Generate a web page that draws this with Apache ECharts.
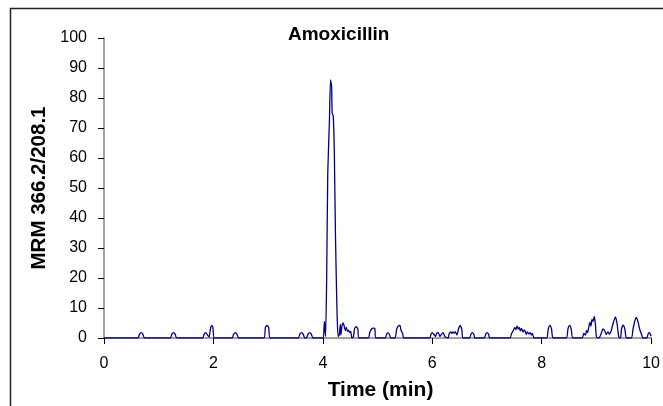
<!DOCTYPE html>
<html>
<head>
<meta charset="utf-8">
<script src="https://cdn.jsdelivr.net/npm/echarts@6/dist/echarts.min.js"></script>
<style>
html,body{margin:0;padding:0;background:#fff;}
#chart{width:663px;height:406px;}
</style>
</head>
<body>
<div id="chart"></div>
<script>
var chartTitle = "Amoxicillin";
var xAxisName = "Time (min)";
var yAxisName = "MRM 366.2/208.1";
var xTicks = [0, 2, 4, 6, 8, 10];
var yTicks = [0, 10, 20, 30, 40, 50, 60, 70, 80, 90, 100];

var timeMin = [
  0, 0.62, 0.65, 0.68, 0.71, 0.74,
  1.21, 1.24, 1.27, 1.30, 1.33,
  1.80, 1.83, 1.86, 1.89, 1.92, 1.95, 1.97, 1.99, 2.02,
  2.34, 2.37, 2.40, 2.43, 2.46,
  2.92, 2.95, 2.98, 3.01, 3.04,
  3.55, 3.58, 3.61, 3.64, 3.67, 3.70, 3.73, 3.76, 3.79, 3.82,
  4.00, 4.02, 4.03, 4.05, 4.07, 4.09, 4.12, 4.14, 4.16, 4.17, 4.19, 4.21, 4.23, 4.26, 4.28,
  4.30, 4.32, 4.33, 4.35, 4.37, 4.39, 4.41, 4.43, 4.45, 4.47, 4.49, 4.51, 4.53,
  4.56, 4.58, 4.61, 4.64, 4.66,
  4.83, 4.86, 4.89, 4.92, 4.95, 4.97,
  5.14, 5.17, 5.19, 5.22, 5.24,
  5.32, 5.35, 5.38, 5.41, 5.43, 5.46, 5.48,
  5.95, 5.98, 6.00, 6.03, 6.06, 6.08, 6.11, 6.14, 6.17, 6.20, 6.23,
  6.29, 6.31, 6.34, 6.36, 6.38, 6.40, 6.42, 6.45, 6.48, 6.51, 6.54, 6.56,
  6.68, 6.71, 6.73, 6.76, 6.78,
  6.95, 6.98, 7.00, 7.03, 7.05,
  7.42, 7.45, 7.48, 7.51, 7.53, 7.55, 7.57, 7.59, 7.61, 7.63, 7.66, 7.68, 7.70, 7.72, 7.74, 7.77, 7.79, 7.81, 7.83, 7.86,
  8.09, 8.12, 8.15, 8.18, 8.21,
  8.45, 8.48, 8.51, 8.54, 8.57,
  8.74, 8.77, 8.80, 8.82, 8.84, 8.86, 8.88, 8.90, 8.92, 8.94, 8.96, 8.98, 9.00, 9.03,
  9.06, 9.09, 9.12, 9.15, 9.18, 9.21, 9.24, 9.27, 9.30, 9.33, 9.35, 9.38, 9.41, 9.44,
  9.46, 9.49, 9.52, 9.55,
  9.64, 9.67, 9.70, 9.73, 9.76, 9.79, 9.82, 9.85,
  9.92, 9.95, 9.97, 10.0
];

var intensity = [
  0, 0, 1.3, 1.8, 1.3, 0,
  0, 1.3, 1.8, 1.3, 0,
  0, 1.3, 1.8, 1.0, 0.3, 3.5, 4.2, 3.5, 0,
  0, 1.3, 1.8, 1.3, 0,
  0, 3.5, 4.2, 3.5, 0,
  0, 1.3, 1.8, 1.3, 0, 0, 1.3, 1.8, 1.3, 0,
  0, 3, 5.5, 0.5, 20, 55, 72, 86, 84, 75, 74, 62, 35, 8, 0.5,
  1, 4.5, 1, 4, 5, 4, 2.5, 3.5, 2.2, 2.6, 1.8, 2.2, 0,
  0.5, 3.2, 3.8, 3, 0,
  0, 2, 3, 3.3, 3.2, 0,
  0, 1.4, 1.8, 1.0, 0,
  0, 3, 4, 4.2, 2.5, 1.5, 0,
  0, 1.4, 1.8, 1.2, 0.5, 1.6, 1.8, 0.5, 1.3, 1.8, 0.5,
  0, 1.5, 2, 1.5, 2, 1.6, 2.1, 1.0, 3.0, 4.2, 3.0, 0,
  0, 1.4, 1.8, 1.2, 0,
  0, 1.4, 1.8, 1.2, 0,
  0, 1.5, 2.5, 3.5, 2.8, 4.0, 3.0, 3.5, 2.4, 3.2, 2.0, 2.7, 2.2, 1.2, 2.0, 1.4, 1.8, 1.0, 1.5, 0,
  0, 3, 4.2, 3, 0,
  0, 3, 4.2, 3, 0,
  0, 1.5, 1.0, 2.5, 1.8, 3.5, 5.2, 4.0, 6.2, 5.5, 7.2, 5, 0.5, 0,
  0.3, 1.6, 3, 2.5, 1.2, 2, 1.3, 2.4, 4.5, 6.3, 7.0, 4.5, 0.3, 0,
  3, 4.3, 3, 0,
  0, 3, 5.5, 6.9, 5.5, 3, 1.5, 0,
  0, 1.6, 1.8, 0.6
];

var seriesData = timeMin.map(function (t, i) { return [t, intensity[i]]; });

var font = '"Liberation Sans", Arial, sans-serif';
var chart = echarts.init(document.getElementById('chart'), null, {renderer: 'canvas'});
chart.setOption({
  animation: false,
  backgroundColor: '#ffffff',
  title: {
    text: chartTitle,
    left: 283, top: 20,
    textStyle: {fontFamily: font, fontSize: 19, fontWeight: 'bold', color: '#000'}
  },
  graphic: [{
    type: 'rect', left: 8, top: 6, silent: true,
    shape: {width: 700, height: 500},
    style: {fill: 'none', stroke: '#222', lineWidth: 1.5}
  }],
  grid: {left: 104, right: 9, top: 38, bottom: 68, containLabel: false},
  xAxis: {
    type: 'value', min: xTicks[0], max: xTicks[xTicks.length - 1], interval: 2,
    name: xAxisName, nameLocation: 'middle', nameGap: 42,
    nameTextStyle: {fontFamily: font, fontSize: 21, fontWeight: 'bold', color: '#000', padding: [0, 0, 0, 6]},
    axisLine: {show: true, onZero: false, lineStyle: {color: '#808080', width: 1.5}},
    axisTick: {show: true, length: 6, lineStyle: {color: '#000', width: 1}},
    axisLabel: {fontFamily: font, fontSize: 16, color: '#000', margin: 18},
    splitLine: {show: false}
  },
  yAxis: {
    type: 'value', min: yTicks[0], max: yTicks[yTicks.length - 1], interval: 10,
    name: yAxisName, nameLocation: 'middle', nameGap: 52, nameRotate: 90,
    nameTextStyle: {fontFamily: font, fontSize: 20.5, fontWeight: 'bold', color: '#000'},
    axisLine: {show: true, lineStyle: {color: '#808080', width: 1.5}},
    axisTick: {show: true, length: 6, lineStyle: {color: '#000', width: 1}},
    axisLabel: {fontFamily: font, fontSize: 16, color: '#000', margin: 17},
    splitLine: {show: false}
  },
  series: [{
    type: 'line', data: seriesData, showSymbol: false, smooth: 0.2,
    lineStyle: {color: '#00008b', width: 1.3},
    clip: true
  }]
});
</script>
</body>
</html>
